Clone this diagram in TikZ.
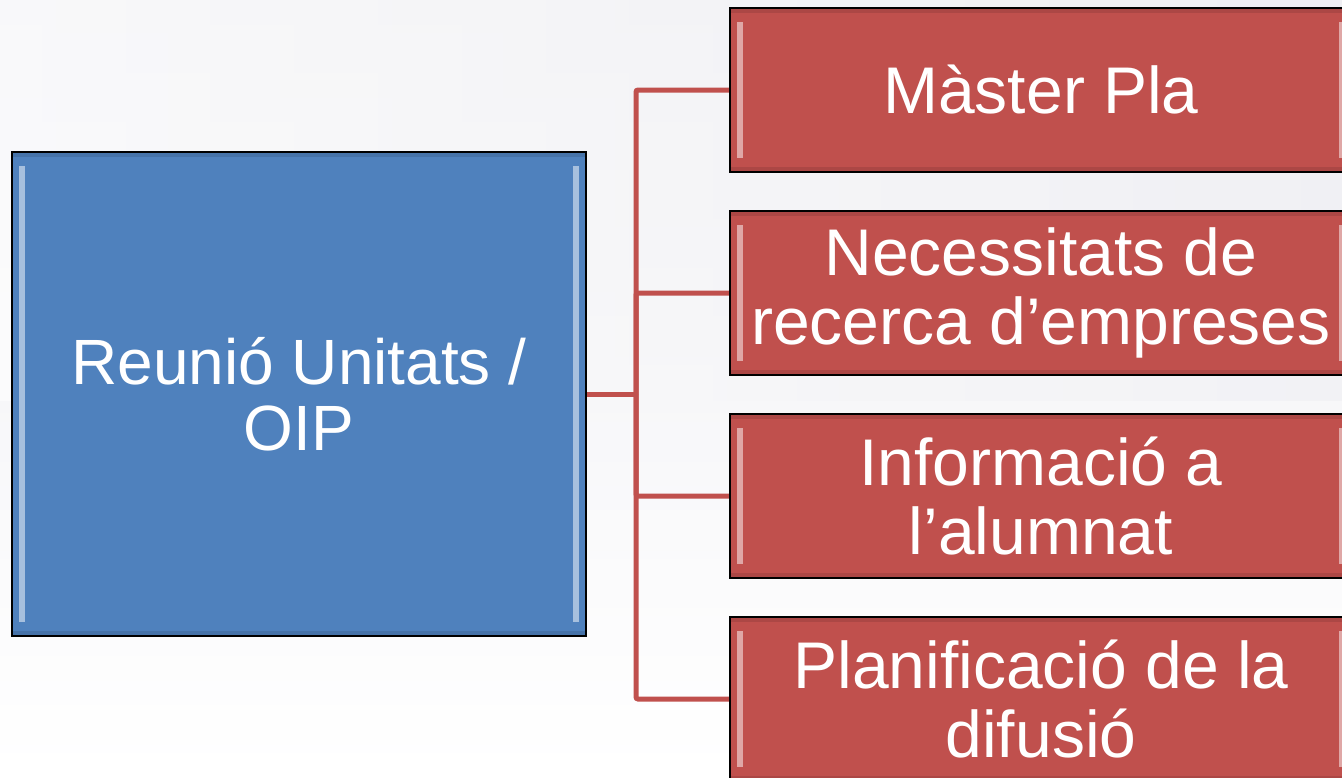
\documentclass[tikz,border=0pt]{standalone}
\usepackage{fontspec}
\setmainfont{Liberation Sans}
\usetikzlibrary{calc}
\pgfdeclarelayer{bg}
\pgfsetlayers{bg,main}
\definecolor{bluebox}{HTML}{4F81BD}
\definecolor{redbox}{HTML}{C0504D}
\definecolor{bgray}{HTML}{EFEFF3}
\tikzset{
  bevel/.style={path picture={
    \fill[white,opacity=0.5] ([xshift=7pt,yshift=-14pt]path picture bounding box.north west) rectangle ([xshift=13pt,yshift=14pt]path picture bounding box.south west);
    \fill[white,opacity=0.5] ([xshift=-13pt,yshift=-14pt]path picture bounding box.north east) rectangle ([xshift=-7pt,yshift=14pt]path picture bounding box.south east);
    \fill[black,opacity=0.10] (path picture bounding box.north west) rectangle ([yshift=-5pt]path picture bounding box.north east);
    \fill[black,opacity=0.10] (path picture bounding box.south west) rectangle ([yshift=5pt]path picture bounding box.south east);
  }},
  bluenode/.style={draw=black, line width=2pt, fill=bluebox, bevel, text=white,
    minimum width=574pt, minimum height=484pt, inner sep=0pt, align=center,
    font=\fontsize{64}{66}\selectfont},
  rednode/.style={draw=black, line width=2pt, fill=redbox, bevel, text=white,
    minimum width=622pt, minimum height=164pt, inner sep=0pt, align=center,
    font=\fontsize{66}{69}\selectfont},
  conn/.style={draw=redbox, line width=5pt, rounded corners=2pt},
}
\begin{document}
\begin{tikzpicture}[x=1pt,y=-1pt]
\useasboundingbox (0,0) rectangle (1342,777);
\begin{pgfonlayer}{bg}
\shade[top color=bgray, bottom color=white] (0,0) rectangle (1342,777);
\shade[left color=white, right color=bgray, opacity=0.6] (0,0) rectangle (1342,400);
\end{pgfonlayer}

\node[bluenode] (b) at (299,394) {Reunió Unitats /\\OIP};

\node[rednode] (r1) at (1041,90)  {Màster Pla};
\node[rednode] (r2) at (1041,293) {Necessitats de\\recerca d’empreses};
\node[rednode] (r3) at (1041,496) {Informació a\\l’alumnat};
\node[rednode] (r4) at (1041,699) {Planificació de la\\difusió};

\coordinate (j) at (636,394);
\begin{pgfonlayer}{bg}
\draw[conn] (b.east) -- (j);
\draw[conn] (j) |- (r1.west);
\draw[conn] (j) |- (r2.west);
\draw[conn] (j) |- (r3.west);
\draw[conn] (j) |- (r4.west);
\end{pgfonlayer}
\end{tikzpicture}
\end{document}
